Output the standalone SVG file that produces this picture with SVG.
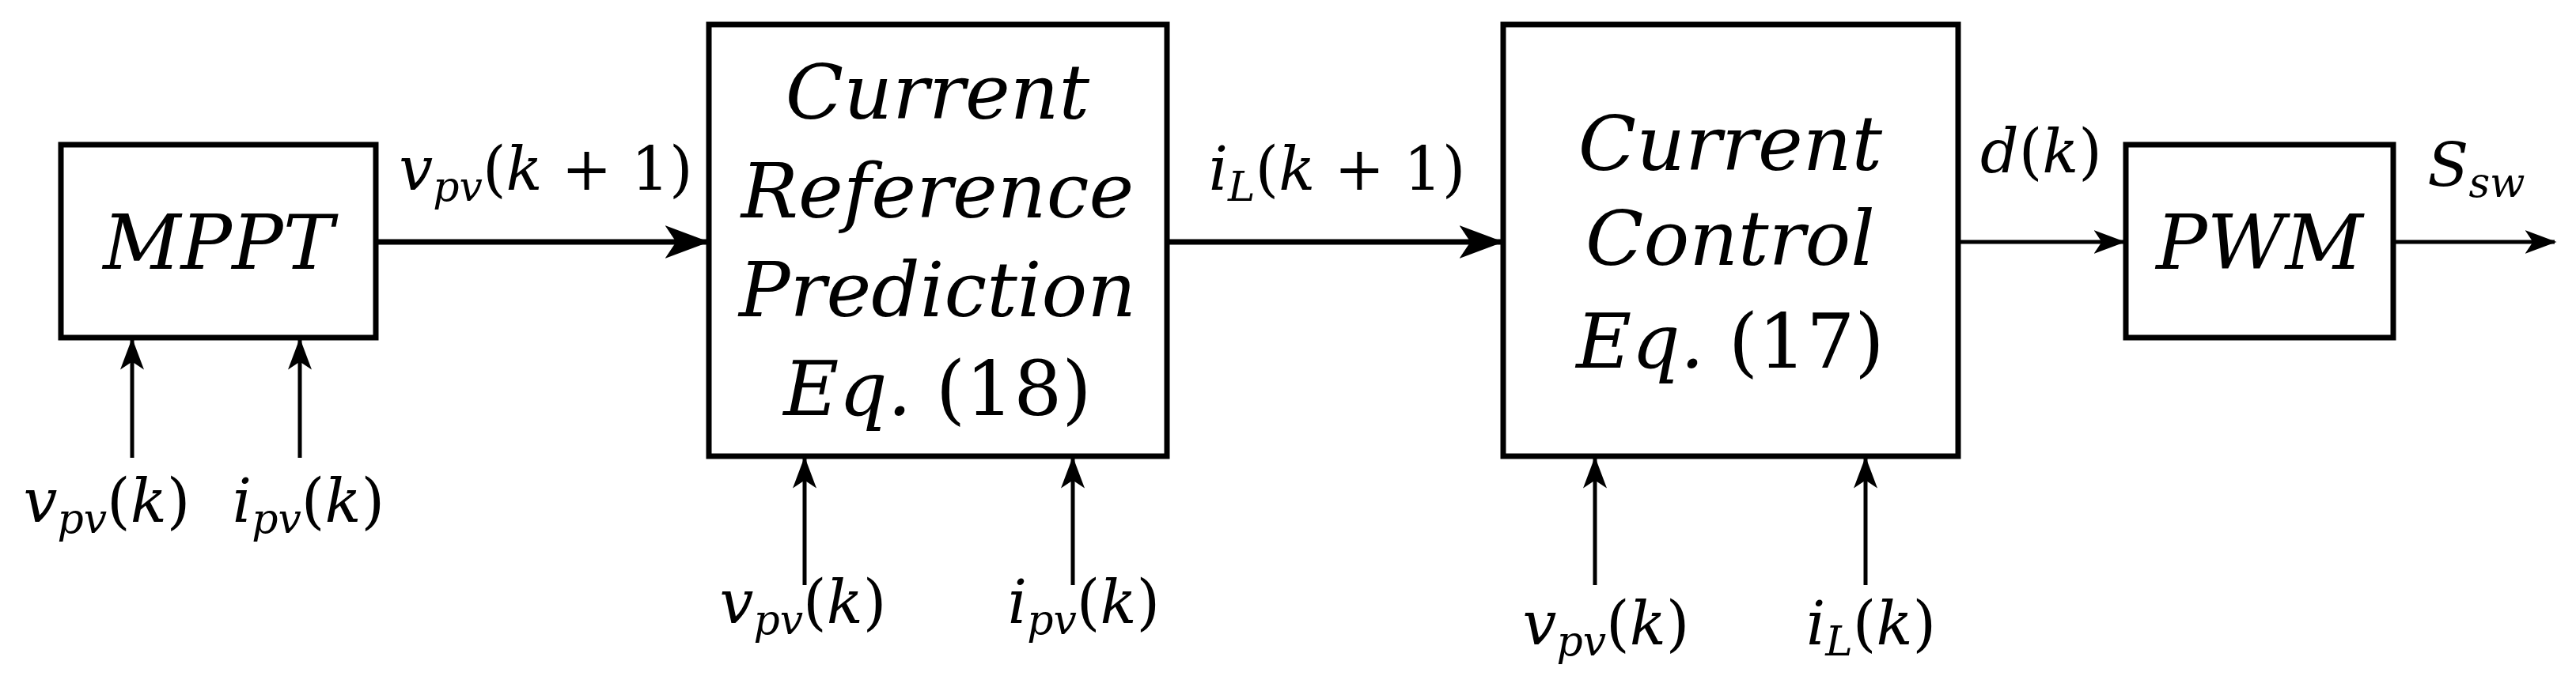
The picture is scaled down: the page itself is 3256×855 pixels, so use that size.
<svg xmlns="http://www.w3.org/2000/svg" width="3256" height="855" viewBox="0 0 3256 855">
<style>
.b{fill:#fff;stroke:#000;stroke-width:7}
.t{font-family:"DejaVu Serif","Liberation Serif",serif;font-style:italic;font-size:96px;text-anchor:middle}
.l{font-family:"DejaVu Serif","Liberation Serif",serif;font-style:italic;font-size:76px;text-anchor:middle}
.s{font-size:52px}
.u{font-style:normal}
.c line{stroke:#000;stroke-width:7}
</style>
<defs><marker id="a" markerWidth="8" markerHeight="6" refX="7.5" refY="3" orient="auto" markerUnits="strokeWidth"><path d="M0,0L8,3L0,6L2,3Z"/></marker></defs>
<rect width="3256" height="855" fill="#fff"/>
<g id="mppt"><rect class="b" x="77" y="183" width="398" height="244"/><text class="t" x="276" y="340">MPPT</text></g>
<g id="crp"><rect class="b" x="896" y="31" width="579" height="546"/>
<text class="t" x="1185" y="150">Current</text><text class="t" x="1185" y="275">Reference</text><text class="t" x="1185" y="400">Prediction</text><text class="t" x="1185" y="525">Eq. <tspan class="u">(18)</tspan></text></g>
<g id="cc"><rect class="b" x="1900" y="31" width="575" height="546"/>
<text class="t" x="2187" y="215">Current</text><text class="t" x="2187" y="335">Control</text><text class="t" x="2187" y="465">Eq. <tspan class="u">(17)</tspan></text></g>
<g id="pwm"><rect class="b" x="2687" y="183" width="338" height="244"/><text class="t" x="2856" y="340">PWM</text></g>
<g class="c" marker-end="url(#a)">
<line x1="475" y1="306" x2="893" y2="306"/>
<line x1="1475" y1="306" x2="1897" y2="306"/>
<line x1="2475" y1="306" x2="2684" y2="306" style="stroke-width:5"/>
<line x1="3025" y1="306" x2="3229" y2="306" style="stroke-width:5"/>
<line x1="167" y1="579" x2="167" y2="430" style="stroke-width:5"/>
<line x1="379" y1="579" x2="379" y2="430" style="stroke-width:5"/>
<line x1="1017" y1="740" x2="1017" y2="580" style="stroke-width:5"/>
<line x1="1356" y1="740" x2="1356" y2="580" style="stroke-width:5"/>
<line x1="2016" y1="740" x2="2016" y2="580" style="stroke-width:5"/>
<line x1="2358" y1="740" x2="2358" y2="580" style="stroke-width:5"/>
</g>
<g id="labels">
<text class="l" x="690" y="240">v<tspan class="s" dy="14">pv</tspan><tspan class="u" dy="-14">(</tspan>k<tspan class="u"> + 1)</tspan></text>
<text class="l" x="1690" y="240">i<tspan class="s" dy="14">L</tspan><tspan class="u" dy="-14">(</tspan>k<tspan class="u"> + 1)</tspan></text>
<text class="l" x="2580" y="218"><tspan>d</tspan><tspan class="u">(</tspan>k<tspan class="u">)</tspan></text>
<text class="l" x="3130" y="235">S<tspan class="s" dy="14">sw</tspan></text>
<text class="l" x="135" y="660">v<tspan class="s" dy="14">pv</tspan><tspan class="u" dy="-14">(</tspan>k<tspan class="u">)</tspan></text>
<text class="l" x="390" y="660">i<tspan class="s" dy="14">pv</tspan><tspan class="u" dy="-14">(</tspan>k<tspan class="u">)</tspan></text>
<text class="l" x="1015" y="788">v<tspan class="s" dy="14">pv</tspan><tspan class="u" dy="-14">(</tspan>k<tspan class="u">)</tspan></text>
<text class="l" x="1370" y="788">i<tspan class="s" dy="14">pv</tspan><tspan class="u" dy="-14">(</tspan>k<tspan class="u">)</tspan></text>
<text class="l" x="2030" y="815">v<tspan class="s" dy="14">pv</tspan><tspan class="u" dy="-14">(</tspan>k<tspan class="u">)</tspan></text>
<text class="l" x="2365" y="815">i<tspan class="s" dy="14">L</tspan><tspan class="u" dy="-14">(</tspan>k<tspan class="u">)</tspan></text>
</g>
</svg>
